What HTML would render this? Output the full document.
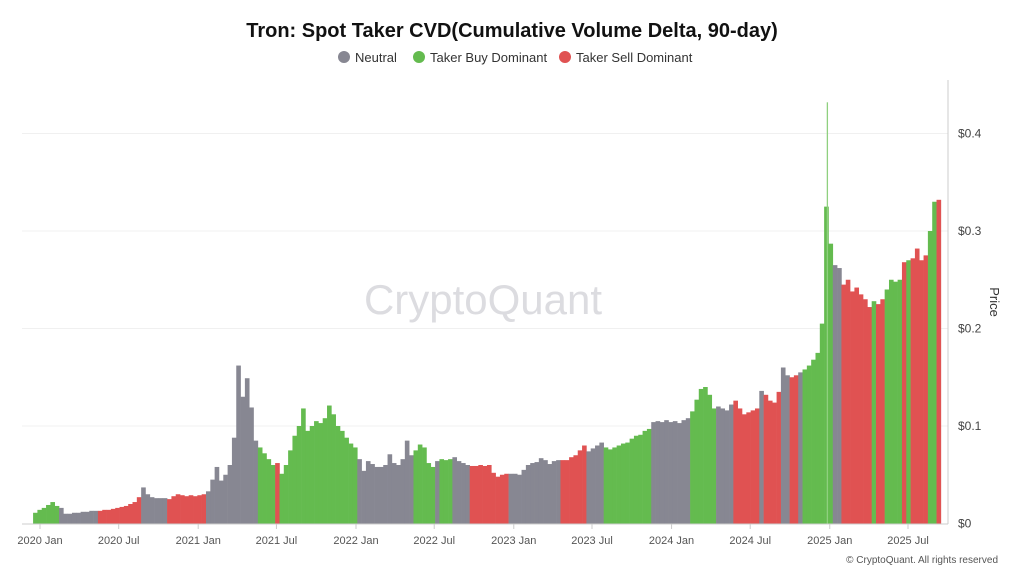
<!DOCTYPE html>
<html><head><meta charset="utf-8"><style>
body{margin:0;background:#fff;font-family:"Liberation Sans",sans-serif;}
svg text{font-family:"Liberation Sans",sans-serif;}
</style></head><body>
<svg id="chart" width="1024" height="576" viewBox="0 0 1024 576" xmlns="http://www.w3.org/2000/svg">
<rect width="1024" height="576" fill="#fff"/>
<text x="512" y="37" text-anchor="middle" font-size="20" font-weight="bold" fill="#111">Tron: Spot Taker CVD(Cumulative Volume Delta, 90-day)</text>
<g font-size="13" fill="#333">
<g><circle cx="344" cy="57" r="6" fill="#878792"/><text x="355" y="62">Neutral</text></g>
<g><circle cx="419" cy="57" r="6" fill="#64bb4f"/><text x="430" y="62">Taker Buy Dominant</text></g>
<g><circle cx="565" cy="57" r="6" fill="#e05252"/><text x="576" y="62">Taker Sell Dominant</text></g>
</g>
<g id="grid"></g>
<text x="483" y="314" text-anchor="middle" font-size="42" fill="#dcdce0">CryptoQuant</text>
<g id="bars"></g>
<line x1="22" y1="524" x2="948" y2="524" stroke="#ccc"/>
<line x1="948" y1="80" x2="948" y2="524" stroke="#ccc"/>
<g id="yticks"></g>
<g id="xticks"></g>
<text transform="translate(990,302) rotate(90)" text-anchor="middle" font-size="13" fill="#333">Price</text>
<text x="998" y="563" text-anchor="end" font-size="10" fill="#555">© CryptoQuant. All rights reserved</text>
</svg>
<script>
const prices = [0.011,0.014,0.016,0.019,0.022,0.018,
0.016,0.010,0.010,0.011,0.011,0.012,0.012,0.013,0.013,
0.013,0.014,0.014,0.015,0.016,0.017,0.018,0.020,0.022,0.027,
0.037,0.030,0.027,0.026,0.026,0.026,
0.025,0.028,0.030,0.029,0.028,0.029,0.028,0.029,0.030,
0.033,0.045,0.058,0.044,0.050,0.060,0.088,0.162,0.130,0.149,0.119,0.085,
0.078,0.072,0.066,0.060,
0.062,
0.051,0.060,0.075,0.090,0.100,0.118,0.095,0.100,0.105,0.103,0.108,0.121,0.112,0.100,0.095,0.088,0.082,0.078,
0.066,0.054,0.064,0.061,0.058,0.058,0.060,0.071,0.062,0.060,0.066,0.085,0.070,
0.075,0.081,0.078,0.062,0.058,
0.064,0.066,0.065,0.066,0.068,0.064,0.062,0.060,
0.059,0.059,0.060,0.059,0.060,0.052,0.048,0.050,0.051,
0.051,0.051,0.050,0.055,0.060,0.062,0.063,0.067,0.065,0.061,0.064,0.065,
0.065,0.065,0.068,0.070,0.075,0.080,
0.074,0.077,0.080,0.083,
0.078,0.076,0.078,0.080,0.082,0.083,0.087,0.090,0.091,0.095,0.097,
0.104,0.105,0.104,0.106,0.104,0.105,0.103,0.106,0.108,
0.115,0.127,0.138,0.140,0.132,0.118,
0.120,0.118,0.116,0.122,
0.126,0.118,0.112,0.114,0.116,0.118,0.136,0.132,0.126,0.124,0.135,
0.160,0.152,0.150,0.152,0.155,
0.158,0.162,0.168,0.175,0.205,0.325,0.287,
0.265,0.262,
0.245,0.250,0.238,0.242,0.235,0.230,0.222,
0.228,0.225,0.230,
0.240,0.250,0.248,0.250,
0.268,0.270,0.272,0.282,0.270,0.275,
0.300,0.330,0.332];
const regimes = "bbbbbb"+"nnnnnnnnn"+"ssssssssss"+"nnnnnn"+"sssssssss"+"nnnnnnnnnnnn"+"bbbb"+"s"+"bbbbbbbbbbbbbbbbbb"+"nnnnnnnnnnnnn"+"bbbbb"+"nbbbnnnn"+"sssssssss"+"nnnnnnnnnnnn"+"ssssss"+"nnnn"+"bbbbbbbbbbb"+"nnnnnnnnn"+"bbbbbb"+"nnnn"+"ssssssnssss"+"nnssn"+"bbbbbbb"+"nn"+"sssssss"+"bss"+"bbbb"+"sbssss"+"bbs";
const startDay = -16;   // days relative to 2020-01-01
const stepDays = 10;
const spikeDays = [1820];
const spikeValues = [0.432];
const yTicks = [0,0.1,0.2,0.3,0.4];
const yTickLabels = ["$0","$0.1","$0.2","$0.3","$0.4"];
const xTickDays = [0,182,366,547,731,912,1096,1277,1461,1643,1827,2008];
const xTickLabels = ["2020 Jan","2020 Jul","2021 Jan","2021 Jul","2022 Jan","2022 Jul","2023 Jan","2023 Jul","2024 Jan","2024 Jul","2025 Jan","2025 Jul"];
const colors = {n:"#878792", b:"#64bb4f", s:"#e05252"};
const NS="http://www.w3.org/2000/svg";
const xScale = d => 40 + d*(868/2008);
const yScale = v => 523.5 - v*975;
const grid=document.getElementById('grid'), yt=document.getElementById('yticks'), xt=document.getElementById('xticks'), bars=document.getElementById('bars');
yTicks.forEach((v,i)=>{
  if(v>0){const l=document.createElementNS(NS,'line');
  
  
  l.setAttribute('x1',22);l.setAttribute('x2',948);l.setAttribute('y1',yScale(v));l.setAttribute('y2',yScale(v));l.setAttribute('stroke','#f0f0f0');grid.appendChild(l);}
  const t=document.createElementNS(NS,'text');
  
  
  t.setAttribute('x',958);t.setAttribute('y',yScale(v)+4);t.setAttribute('font-size','12');t.setAttribute('fill','#444');t.textContent=yTickLabels[i];yt.appendChild(t);
});
xTickDays.forEach((d,i)=>{
  const x=xScale(d);
  const l=document.createElementNS(NS,'line');
  
  
  l.setAttribute('x1',x);l.setAttribute('x2',x);l.setAttribute('y1',524);l.setAttribute('y2',529);l.setAttribute('stroke','#ccc');xt.appendChild(l);
  const t=document.createElementNS(NS,'text');
  
  
  t.setAttribute('x',x);t.setAttribute('y',544);t.setAttribute('text-anchor','middle');t.setAttribute('font-size','11');t.setAttribute('fill','#555');t.textContent=xTickLabels[i];xt.appendChild(t);
});
const w = xScale(stepDays)-xScale(0);
prices.forEach((v,i)=>{
  const x=xScale(startDay+i*stepDays);
  const r=document.createElementNS(NS,'rect');
  
  
  r.setAttribute('x',x);r.setAttribute('width',w+0.3);
  r.setAttribute('y',yScale(v));r.setAttribute('height',yScale(0)-yScale(v));
  r.setAttribute('fill',colors[regimes[i]]||colors.n);
  bars.appendChild(r);
});
spikeDays.forEach((d,i)=>{
  const r=document.createElementNS(NS,'rect');
  
  
  r.setAttribute('x',xScale(d));r.setAttribute('width',1.3);
  r.setAttribute('y',yScale(spikeValues[i]));r.setAttribute('height',yScale(0)-yScale(spikeValues[i]));
  r.setAttribute('fill','#8fd07f');
  bars.appendChild(r);
});
</script>
</body></html>
